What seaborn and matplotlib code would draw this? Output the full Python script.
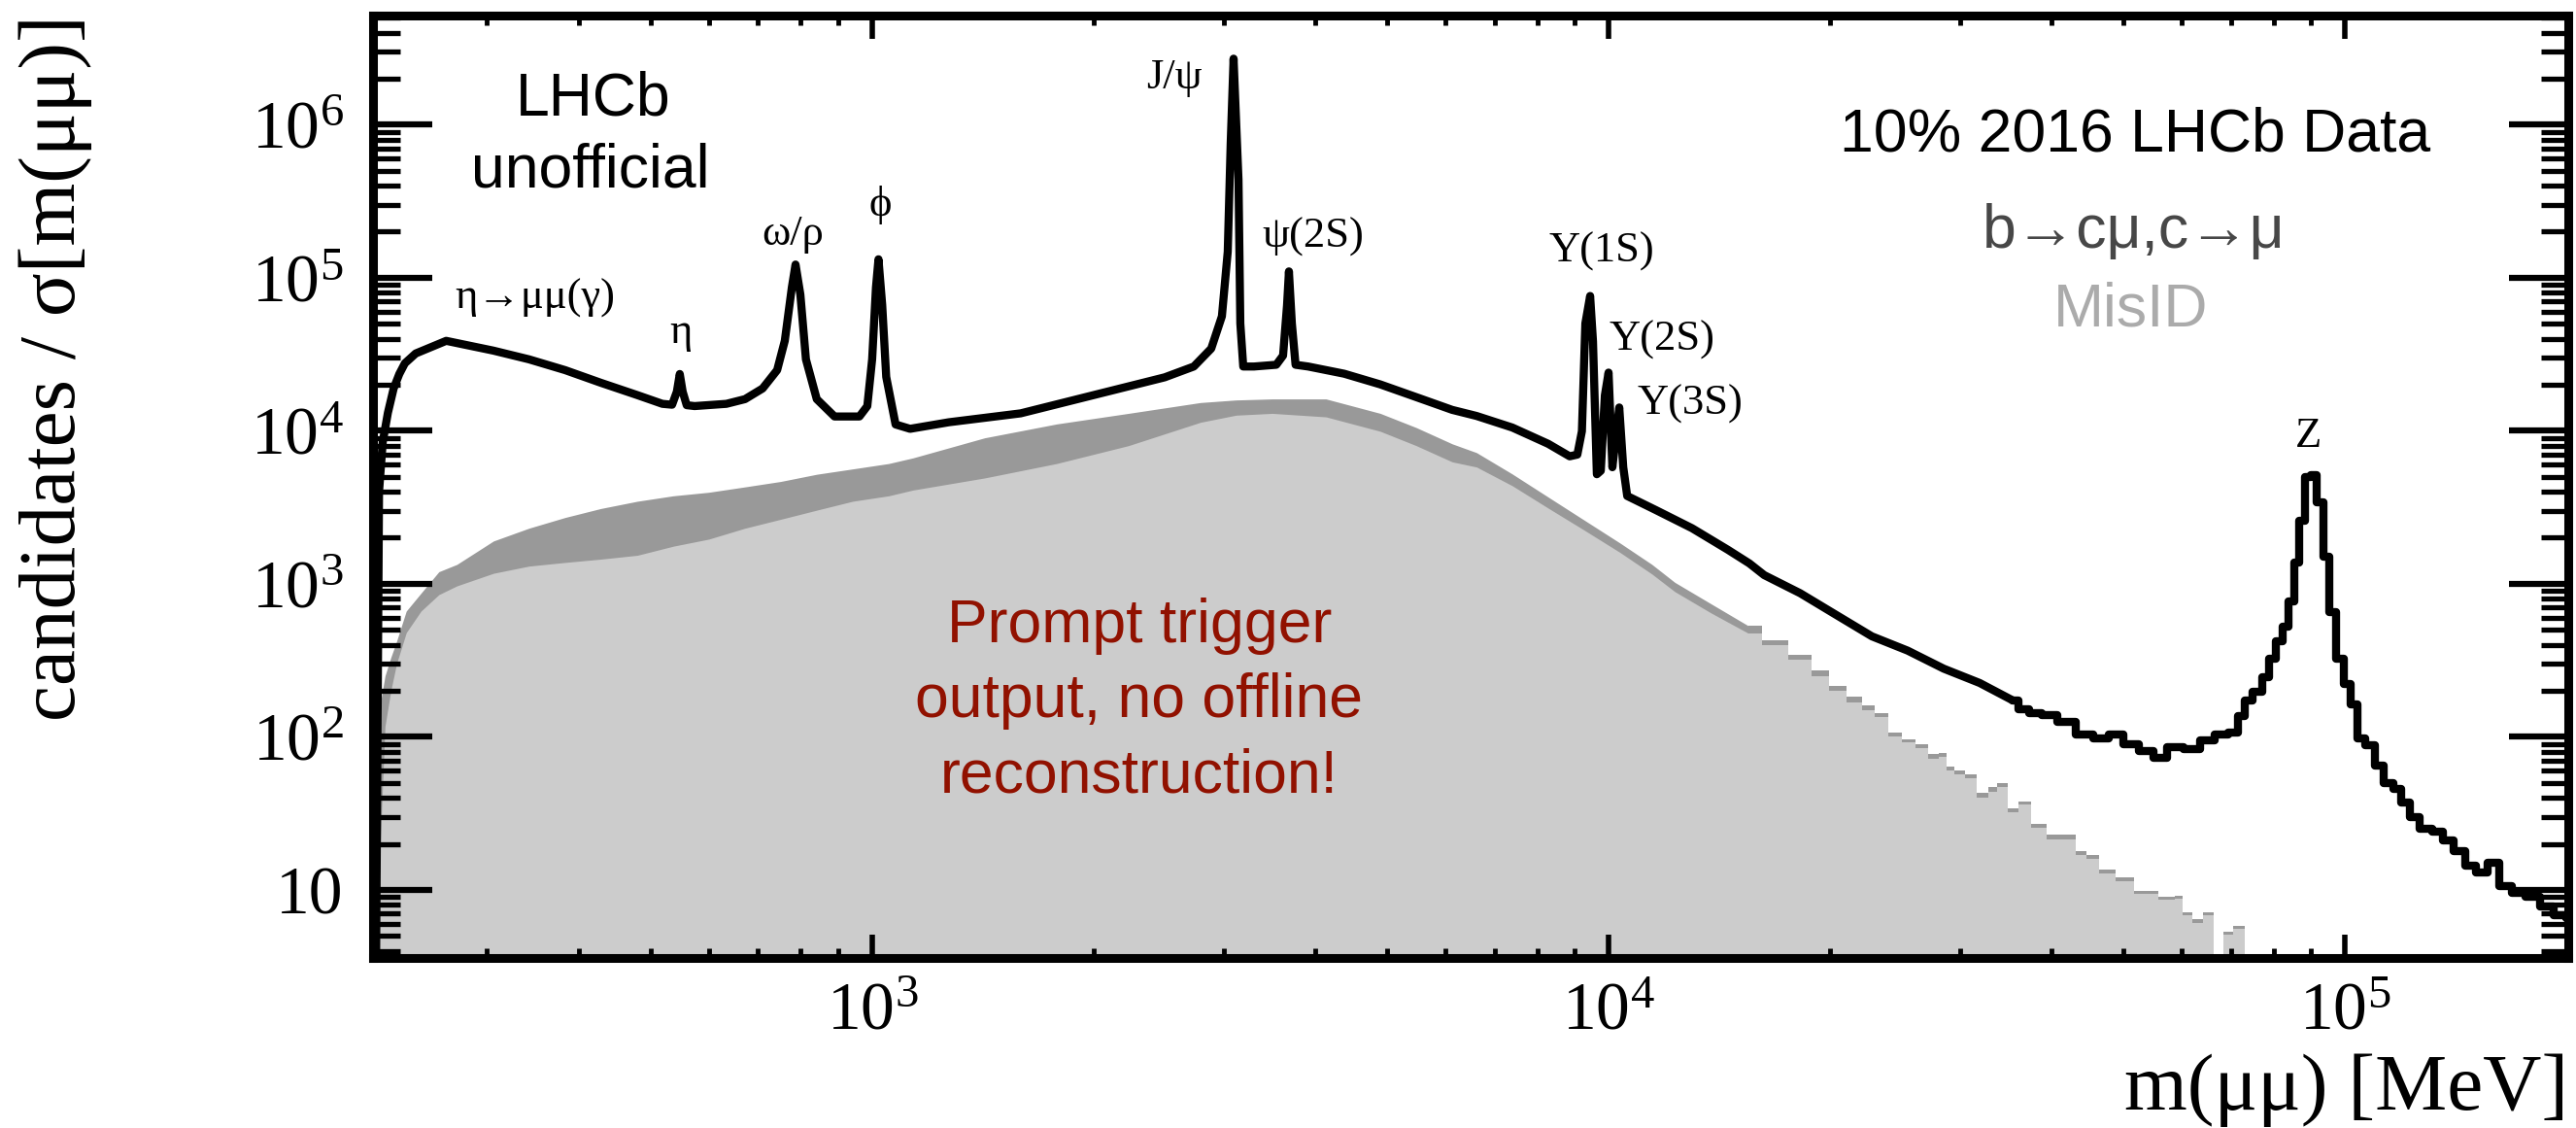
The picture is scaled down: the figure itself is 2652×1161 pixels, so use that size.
import matplotlib
matplotlib.use("Agg")
import matplotlib.pyplot as plt
import numpy as np
import seaborn as sns
from matplotlib.ticker import FuncFormatter, LogLocator, NullFormatter

# ---- dimuon spectrum -------------------------------------------------------
# smooth low-mass part: mass [MeV], candidates / sigma
mass_lo = [212, 214, 216.5, 220, 224, 228, 232, 240, 264, 306, 342, 383, 428, 480,
           519, 535, 543, 548, 553, 560, 574, 634, 672, 710, 743, 761, 778, 787,
           799, 813, 841, 889, 961, 985, 1000, 1012, 1020, 1032, 1045, 1076, 1126,
           1271, 1591, 1993, 2496, 2734, 2887, 2985, 3040, 3068, 3096, 3144, 3162,
           3191, 3300, 3538, 3614, 3659, 3681, 3715, 3758, 3909, 4375, 4897, 5480,
           6132, 6618, 7401, 8280, 8855, 9070, 9200, 9300, 9440, 9525, 9640, 9760,
           9885, 10000, 10120, 10250, 10340, 10470, 10600, 11600, 12980, 14520,
           15530, 16270, 18200, 20360, 22780, 25480, 28520, 31910, 35400]
cand_lo = [3, 4000, 8450, 13100, 18900, 23500, 27600, 32000, 38700, 33400, 29300,
           24900, 20600, 17100, 15000, 14800, 18000, 23500, 18000, 14700, 14500,
           15000, 16100, 18900, 24900, 38700, 86500, 122000, 77600, 29300, 16100,
           12400, 12400, 14500, 29300, 86500, 132000, 66400, 22500, 11000, 10300,
           11370, 13000, 17050, 22350, 26300, 34450, 56000, 148000, 752000,
           2700000, 437000, 50300, 26300, 26300, 27000, 31000, 65900, 110000,
           50300, 27000, 26300, 23600, 20100, 16600, 13700, 12500, 10500, 8220,
           6810, 6990, 9930, 50300, 76000, 38400, 5200, 5480, 17050, 24000, 5780,
           9930, 14200, 5780, 3750, 3030, 2310, 1670, 1360, 1140, 869, 628, 454,
           366, 279, 225, 173]

# binned high-mass part: bin centres [MeV], candidates / sigma
mass_hi = [35400, 36600, 37800, 39600, 41800, 44300, 46800, 48900, 51200, 53700,
           56100, 58600, 62100, 65000, 68000, 70800, 72300, 73800, 76100, 78200,
           79700, 81300, 83100, 84600, 85900, 87500, 88900, 90600, 92600, 94400,
           96200, 98400, 100600, 102800, 105200, 108100, 111200, 114600, 117800,
           120300, 124400, 128500, 133900, 138000, 143000, 148000, 153000, 159000,
           165000, 172000, 180000, 188000, 196000, 203000]
cand_hi = [173, 152, 143, 139, 125, 104, 98, 104, 90, 81, 73, 86, 83, 95, 104, 106,
           136, 173, 198, 245, 322, 422, 526, 767, 1387, 2590, 4950, 5130, 3390,
           1508, 650, 322, 222, 164, 98, 88, 65, 50, 46, 37, 30, 25, 24, 21, 18,
           14.5, 13, 15, 10.6, 9.5, 9, 7.8, 6.8, 6.5]

# b->cmu, c->mu plus MisID (stack top) and MisID alone, smooth part
bkg_mass_lo = [212, 213.5, 215.5, 218, 222, 226, 233, 244, 258, 273, 306, 342, 383,
               428, 480, 537, 600, 672, 751, 841, 941, 1053, 1136, 1422, 1780, 2229,
               2792, 3120, 3494, 4133, 4897, 5480, 6132, 6618, 7401, 8280, 9265,
               10360, 11450, 12300, 13780, 15500]
bkg_total_lo = [5, 15, 180, 250, 330, 420, 664, 869, 1200, 1340, 1905, 2310, 2715,
                3105, 3465, 3760, 3965, 4300, 4665, 5200, 5635, 6110, 6650, 9000,
                11080, 13000, 15300, 15900, 16150, 16150, 13000, 10500, 8220, 7200,
                5220, 3690, 2610, 1850, 1340, 1023, 740, 530]
misid_lo = [3, 8, 30, 117, 200, 300, 480, 664, 850, 970, 1172, 1306, 1380, 1450,
            1537, 1762, 1960, 2310, 2640, 3030, 3465, 3760, 4100, 4920, 6110, 8000,
            11370, 12650, 13000, 12330, 9930, 8000, 6270, 5800, 4375, 3125, 2245,
            1606, 1160, 890, 645, 474]

# binned part of the two background templates
bkg_mass_hi = [15500, 16800, 18300, 19400, 20500, 21600, 22600, 23400, 24500, 25500,
               26700, 27600, 28500, 29000, 30000, 30900, 32300, 33200, 34200, 35400,
               36600, 38400, 40300, 42500, 43800, 45200, 47600, 49900, 53500, 58100,
               59500, 61000, 63000, 65200, 67600, 69000, 71800, 74400]
bkg_total_hi = [530, 430, 345, 270, 215, 182, 160, 142, 106, 97, 90, 77, 79, 64, 60,
                57, 43, 47, 50, 34, 38, 27, 23, 23, 18, 17, 13.5, 12, 9.9, 9, 9.2,
                7.1, 6.4, 7.1, 0, 5.3, 5.8, 0]
misid_hi = [474, 400, 318, 250, 200, 169, 150, 135, 100, 92, 85, 72, 74, 60, 57, 54,
            40, 44, 47, 32, 36, 25.5, 21.5, 21.5, 17, 16, 12.8, 11.4, 9.4, 8.6, 8.8,
            6.8, 6.1, 6.8, 0, 5.1, 5.6, 0]

# resonance labels
peak_names = ["η→μμ(γ)", "η", "ω/ρ", "ϕ", "J/ψ", "ψ(2S)", "Υ(1S)", "Υ(2S)",
              "Υ(3S)", "Z"]

# ---- style -------------------------------------------------------------------
sns.set_theme(style="ticks")
plt.rcParams["font.family"] = ["Liberation Serif", "DejaVu Serif"]
plt.rcParams["mathtext.fontset"] = "custom"
plt.rcParams["mathtext.rm"] = "Liberation Serif"
plt.rcParams["mathtext.it"] = "Liberation Serif:italic"
plt.rcParams["mathtext.bf"] = "Liberation Serif:bold"
plt.rcParams["axes.axisbelow"] = False
SANS = ["Liberation Sans", "DejaVu Sans"]

fig = plt.figure(figsize=(26.52, 11.61), dpi=100)
ax = fig.add_axes([0.1448, 0.1507, 0.8522, 0.8359])
ax.set_xscale("log")
ax.set_yscale("log")

# stacked backgrounds: dark = b->cmu + MisID, light = MisID
ax.fill_between(bkg_mass_lo, 1e-3, bkg_total_lo, color="#999999", lw=0)
ax.fill_between(bkg_mass_hi, 1e-3, bkg_total_hi, step="mid", color="#999999", lw=0)
ax.fill_between(bkg_mass_lo, 1e-3, misid_lo, color="#cccccc", lw=0)
ax.fill_between(bkg_mass_hi, 1e-3, misid_hi, step="mid", color="#cccccc", lw=0)

# data
sns.lineplot(x=mass_lo, y=cand_lo, ax=ax, color="black", lw=6,
             estimator=None, legend=False)
sns.lineplot(x=mass_hi, y=cand_hi, ax=ax, color="black", lw=6,
             estimator=None, legend=False, drawstyle="steps-mid")

ax.set_xlim(210, 2.01e5)
ax.set_ylim(3.59, 5.2e6)
ax.set_xlabel("")
ax.set_ylabel("")
ax.set_axisbelow(False)


def decade_label(v, pos):
    e = int(round(np.log10(v)))
    return "10" if e == 1 else rf"$10^{{{e}}}$"


for axis in (ax.xaxis, ax.yaxis):
    axis.set_major_locator(LogLocator(base=10, numticks=20))
    axis.set_minor_locator(LogLocator(base=10, subs=np.arange(2, 10), numticks=200))
    axis.set_major_formatter(FuncFormatter(decade_label))
    axis.set_minor_formatter(NullFormatter())

ax.tick_params(axis="x", which="major", direction="in", length=17, width=4,
               color="black", top=True, bottom=True, pad=18, labelsize=50,
               labelcolor="black")
ax.tick_params(axis="x", which="minor", direction="in", length=7.5, width=3.5,
               color="black", top=True, bottom=True)
ax.tick_params(axis="y", which="major", direction="in", length=44, width=4.5,
               color="black", left=True, right=True, pad=22, labelsize=50,
               labelcolor="black")
ax.tick_params(axis="y", which="minor", direction="in", length=20, width=3.8,
               color="black", left=True, right=True)
for sp in ax.spines.values():
    sp.set_linewidth(6.5)
    sp.set_color("black")
    sp.set_zorder(5)

# resonance annotations (anchored at mass, height)
peak_anchor = [(348, 62700), (550, 37600), (780, 164000), (1025, 255000),
               (2572, 1.73e6), (3972, 157000), (9790, 126500), (11820, 33400),
               (12910, 12740), (89100, 7850)]
for name, (m, h) in zip(peak_names, peak_anchor):
    ax.text(m, h, name, ha="center", va="baseline", fontsize=32, color="black")

ax.text(0.1004, 0.8944, "LHCb", transform=ax.transAxes, ha="center",
        va="baseline", fontsize=45, family=SANS, color="black")
ax.text(0.0991, 0.818, "unofficial", transform=ax.transAxes, ha="center",
        va="baseline", fontsize=45, family=SANS, color="black")
ax.text(0.8027, 0.8563, "10% 2016 LHCb Data", transform=ax.transAxes,
        ha="center", va="baseline", fontsize=45, family=SANS, color="black")
ax.text(0.8022, 0.7532, "b→cμ,c→μ", transform=ax.transAxes, ha="center",
        va="baseline", fontsize=45, family=SANS, color="#474747")
ax.text(0.8009, 0.6708, "MisID", transform=ax.transAxes, ha="center",
        va="baseline", fontsize=45, family=SANS, color="#ababab")
for line, yb in zip(["Prompt trigger", "output, no offline", "reconstruction!"],
                    [0.3351, 0.2557, 0.1754]):
    ax.text(0.3491, yb, line, transform=ax.transAxes, ha="center", va="baseline",
            fontsize=45, family=SANS, color="#911100")

fig.text(0.0215, 0.9866, "candidates / σ[m(μμ)]", rotation=90, ha="center",
         va="top", fontsize=60, color="black")
fig.text(0.997, 0.016, "m(μμ) [MeV]", ha="right", va="baseline", fontsize=60,
         color="black")

fig.savefig("out.png", dpi=100)
